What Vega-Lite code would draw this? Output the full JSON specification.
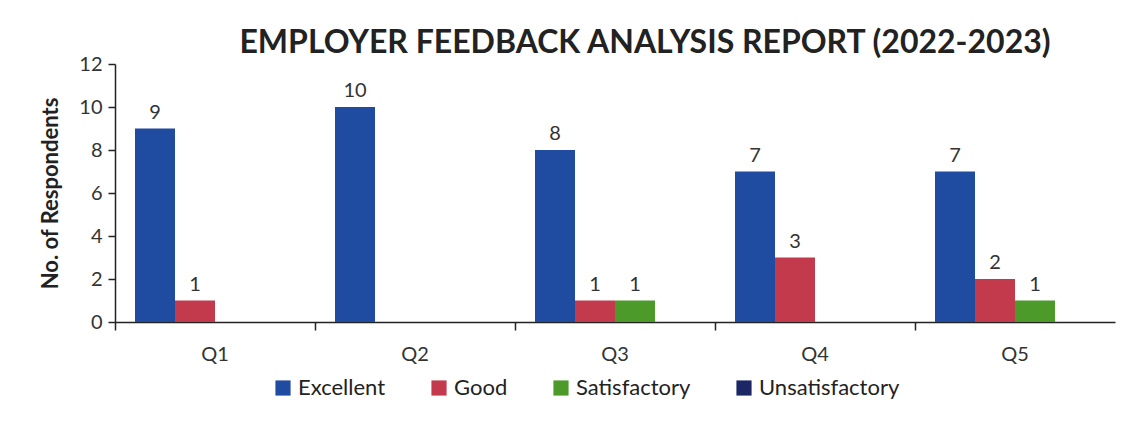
{
  "$schema": "https://vega.github.io/schema/vega-lite/v6.json",
  "autosize": "none",
  "width": 1000,
  "height": 258,
  "padding": {"left": 115, "top": 64, "right": 25, "bottom": 115},
  "background": "#ffffff",
  "config": {"font": "Lato", "view": {"stroke": null}},
  "title": {
    "text": "EMPLOYER FEEDBACK ANALYSIS REPORT (2022-2023)",
    "fontSize": 32,
    "fontWeight": "bold",
    "color": "#222222",
    "anchor": "middle",
    "dx": 30,
    "offset": -6
  },
  "data": {
    "values": [
      {"q": "Q1", "rating": "Excellent", "value": 9},
      {"q": "Q1", "rating": "Good", "value": 1},
      {"q": "Q1", "rating": "Satisfactory", "value": 0},
      {"q": "Q1", "rating": "Unsatisfactory", "value": 0},
      {"q": "Q2", "rating": "Excellent", "value": 10},
      {"q": "Q2", "rating": "Good", "value": 0},
      {"q": "Q2", "rating": "Satisfactory", "value": 0},
      {"q": "Q2", "rating": "Unsatisfactory", "value": 0},
      {"q": "Q3", "rating": "Excellent", "value": 8},
      {"q": "Q3", "rating": "Good", "value": 1},
      {"q": "Q3", "rating": "Satisfactory", "value": 1},
      {"q": "Q3", "rating": "Unsatisfactory", "value": 0},
      {"q": "Q4", "rating": "Excellent", "value": 7},
      {"q": "Q4", "rating": "Good", "value": 3},
      {"q": "Q4", "rating": "Satisfactory", "value": 0},
      {"q": "Q4", "rating": "Unsatisfactory", "value": 0},
      {"q": "Q5", "rating": "Excellent", "value": 7},
      {"q": "Q5", "rating": "Good", "value": 2},
      {"q": "Q5", "rating": "Satisfactory", "value": 1},
      {"q": "Q5", "rating": "Unsatisfactory", "value": 0}
    ]
  },
  "encoding": {
    "x": {
      "field": "q",
      "type": "nominal",
      "scale": {"paddingInner": 0, "paddingOuter": 0},
      "axis": {
        "title": null,
        "labelAngle": 0,
        "bandPosition": 0,
        "labelFontSize": 20,
        "labelColor": "#333333",
        "labelPadding": 14,
        "tickSize": 8,
        "tickColor": "#222222",
        "domainColor": "#222222",
        "domainWidth": 1.5,
        "tickWidth": 1.5
      }
    },
    "xOffset": {
      "field": "rating",
      "type": "nominal",
      "scale": {"domain": ["Excellent", "Good", "Satisfactory", "Unsatisfactory"], "paddingInner": 0, "paddingOuter": 0.5}
    },
    "y": {
      "field": "value",
      "type": "quantitative",
      "scale": {"domain": [0, 12]},
      "axis": {
        "title": "No. of Respondents",
        "titleFontSize": 22,
        "titleFontWeight": "bold",
        "titleColor": "#222222",
        "titlePadding": 16,
        "values": [0, 2, 4, 6, 8, 10, 12],
        "grid": false,
        "labelFontSize": 20,
        "labelColor": "#333333",
        "labelPadding": 6,
        "tickSize": 7,
        "tickColor": "#222222",
        "domainColor": "#222222",
        "domainWidth": 1.5,
        "tickWidth": 1.5
      }
    }
  },
  "layer": [
    {
      "mark": {"type": "bar"},
      "encoding": {
        "color": {
          "field": "rating",
          "type": "nominal",
          "scale": {
            "domain": ["Excellent", "Good", "Satisfactory", "Unsatisfactory"],
            "range": ["#1F4BA0", "#C23A4B", "#4C9A2A", "#1C2766"]
          },
          "legend": {
            "title": null,
            "orient": "none",
            "direction": "horizontal",
            "legendX": 157,
            "legendY": 313,
            "symbolType": "square",
            "symbolSize": 230,
            "symbolStrokeWidth": 0,
            "labelFontSize": 22,
            "labelColor": "#222222",
            "columnPadding": 42,
            "labelOffset": 4
          }
        }
      }
    },
    {
      "transform": [{"filter": "datum.value > 0"}],
      "mark": {"type": "text", "baseline": "bottom", "dy": -6, "fontSize": 20, "color": "#333333"},
      "encoding": {"text": {"field": "value", "type": "quantitative"}}
    }
  ]
}
